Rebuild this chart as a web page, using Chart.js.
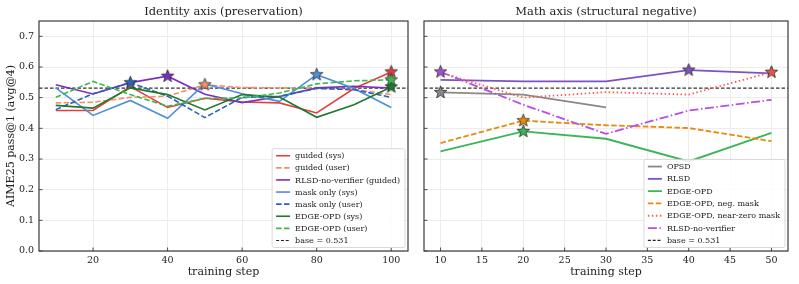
<!DOCTYPE html>
<html>
<head>
<meta charset="utf-8">
<script src="https://cdn.jsdelivr.net/npm/chart.js@4.4.1/dist/chart.umd.min.js"></script>
<style>
  html, body { margin: 0; padding: 0; background: #fff; }
  .wrap { position: relative; width: 799px; height: 284px; }
  .panel { position: absolute; top: 0; height: 284px; }
  #left { left: 0; width: 416px; }
  #right { left: 416px; width: 383px; }
</style>
</head>
<body>
<div class="wrap">
  <div class="panel" id="left"><canvas id="idChart"></canvas></div>
  <div class="panel" id="right"><canvas id="mathChart"></canvas></div>
</div>
<script>
const base = 0.531;
const yTicks = [0, 0.1, 0.2, 0.3, 0.4, 0.5, 0.6, 0.7];

// identity axis (preservation)
const idSteps = [10, 20, 30, 40, 50, 60, 70, 80, 90, 100];
const idTicks = [20, 40, 60, 80, 100];
const guidedSys    = [0.458, 0.458, 0.536, 0.468, 0.498, 0.486, 0.483, 0.450, 0.530, 0.584];
const guidedUser   = [0.483, 0.485, 0.501, 0.505, 0.542, 0.533, 0.532, 0.531, 0.527, 0.510];
const rlsdNvGuided = [0.542, 0.512, 0.549, 0.570, 0.511, 0.484, 0.504, 0.532, 0.537, 0.531];
const maskSys      = [0.532, 0.442, 0.491, 0.433, 0.545, 0.513, 0.488, 0.575, 0.530, 0.468];
const maskUser     = [0.461, 0.513, 0.549, 0.505, 0.435, 0.501, 0.504, 0.530, 0.526, 0.501];
const edgeSys      = [0.475, 0.466, 0.532, 0.510, 0.460, 0.510, 0.502, 0.436, 0.477, 0.535];
const edgeUser     = [0.501, 0.553, 0.510, 0.472, 0.498, 0.499, 0.515, 0.545, 0.555, 0.558];

// math axis (structural negative)
const mathSteps = [10, 20, 30, 40, 50];
const mathTicks = [10, 15, 20, 25, 30, 35, 40, 45, 50];
const opsd       = [0.517, 0.510, 0.468];
const rlsd       = [0.558, 0.553, 0.553, 0.590, 0.579];
const edgeOpd    = [0.325, 0.390, 0.366, 0.292, 0.385];
const negMask    = [0.352, 0.425, 0.410, 0.401, 0.358];
const nearZero   = [0.582, 0.500, 0.518, 0.510, 0.583];
const rlsdNoVer  = [0.584, 0.477, 0.382, 0.458, 0.493];

const FONT = "'DejaVu Serif', 'Liberation Serif', serif";
const DASH = [5.5, 2.4], DOT = [1.5, 2.5], DASHDOT = [9, 2.5, 1.5, 2.5];

function starImage(color) {
  const c = document.createElement('canvas');
  c.width = c.height = 15;
  const g = c.getContext('2d');
  g.beginPath();
  for (let i = 0; i < 10; i++) {
    const r = i % 2 ? 2.8 : 6.6;
    const a = -Math.PI / 2 + i * Math.PI / 5;
    g.lineTo(7.5 + r * Math.cos(a), 7.5 + r * Math.sin(a));
  }
  g.closePath();
  g.fillStyle = color;
  g.fill();
  g.lineWidth = 0.8;
  g.strokeStyle = '#2a2a2a';
  g.stroke();
  return c;
}

function bestIndex(vals) {
  let b = 0;
  vals.forEach((v, i) => { if (v >= vals[b]) b = i; });
  return b;
}

// one line + its star at the best step
function makeSeries(steps, list) {
  const lines = [], stars = [];
  list.forEach((s, i) => {
    const pts = s.data.map((v, j) => ({ x: steps[j], y: v }));
    lines.push({
      label: s.label, data: pts, borderColor: s.color, borderWidth: s.width || 1.6,
      borderDash: s.dash || [], pointRadius: 0, tension: 0, fill: false, order: -i
    });
    const b = bestIndex(s.data);
    stars.push({
      label: '', data: [pts[b]], showLine: false, pointRadius: 7,
      pointStyle: starImage(s.star || s.color), order: -100 - i
    });
  });
  return lines.concat(stars);
}

const panelPlugin = {
  id: 'panel',
  beforeDatasetsDraw(chart, args, opts) {
    const { ctx, chartArea: a, scales } = chart;
    const y = scales.y.getPixelForValue(base);
    ctx.save();
    ctx.strokeStyle = '#333';
    ctx.lineWidth = 1.1;
    ctx.setLineDash([3.5, 2]);
    ctx.beginPath();
    ctx.moveTo(a.left, y);
    ctx.lineTo(a.right, y);
    ctx.stroke();
    ctx.restore();
  },
  afterDraw(chart, args, opts) {
    const { ctx, chartArea: a, scales } = chart;
    ctx.save();
    ctx.strokeStyle = '#3a3a3a';
    ctx.lineWidth = 1.2;
    ctx.strokeRect(a.left, a.top, a.right - a.left, a.bottom - a.top);
    ctx.lineWidth = 0.9;
    ctx.beginPath();
    scales.x.ticks.forEach(t => {
      const x = scales.x.getPixelForValue(t.value);
      ctx.moveTo(x, a.bottom); ctx.lineTo(x, a.bottom - 3.5);
    });
    scales.y.ticks.forEach(t => {
      const y = scales.y.getPixelForValue(t.value);
      ctx.moveTo(a.left, y); ctx.lineTo(a.left + 3.5, y);
    });
    ctx.stroke();

    ctx.fillStyle = '#222';
    ctx.font = '11.5px ' + FONT;
    ctx.textAlign = 'center';
    ctx.textBaseline = 'middle';
    ctx.fillText(opts.title, (a.left + a.right) / 2, 12);

    // legend box, bottom right
    const items = opts.legend;
    ctx.font = '8px ' + FONT;
    const tw = Math.max(...items.map(it => ctx.measureText(it.label).width));
    const rowH = opts.rowH;
    const w = 4 + 14 + 5 + tw + 5;
    const h = items.length * rowH + 2;
    const bx = a.right - 3 - w, by = a.bottom - 3.5 - h;
    ctx.fillStyle = 'rgba(255,255,255,0.85)';
    ctx.strokeStyle = '#cfcfcf';
    ctx.lineWidth = 0.8;
    ctx.beginPath();
    ctx.roundRect(bx, by, w, h, 2);
    ctx.fill();
    ctx.stroke();
    ctx.textAlign = 'left';
    items.forEach((it, i) => {
      const cy = by + 1 + (i + 0.5) * rowH;
      ctx.strokeStyle = it.color;
      ctx.lineWidth = it.width || 1.6;
      ctx.setLineDash(it.dash || []);
      ctx.beginPath();
      ctx.moveTo(bx + 4, cy);
      ctx.lineTo(bx + 18, cy);
      ctx.stroke();
      ctx.setLineDash([]);
      ctx.fillStyle = '#222';
      ctx.fillText(it.label, bx + 23, cy + 0.5);
    });
    ctx.restore();
  }
};

function makeChart(id, steps, ticks, xmin, xmax, series, conf) {
  const baseItem = { label: 'base = 0.531', color: '#222', dash: [3, 1.8], width: 1.1 };
  return new Chart(document.getElementById(id), {
    type: 'line',
    data: { datasets: makeSeries(steps, series) },
    plugins: [panelPlugin],
    options: {
      responsive: true,
      maintainAspectRatio: false,
      animation: false,
      events: [],
      layout: { padding: { left: 0, right: conf.padRight, top: 21, bottom: 3 } },
      plugins: {
        legend: { display: false },
        tooltip: { enabled: false },
        panel: { title: conf.title, legend: series.concat([baseItem]), rowH: conf.rowH }
      },
      scales: {
        x: {
          type: 'linear', min: xmin, max: xmax,
          afterBuildTicks: s => { s.ticks = ticks.map(v => ({ value: v })); },
          afterFit: s => { s.height = 30; },
          grid: { color: '#ececec', drawTicks: false },
          border: { display: false },
          ticks: { font: { family: FONT, size: 9.5 }, color: '#222', padding: 4 },
          title: { display: true, text: 'training step', font: { family: FONT, size: 11 }, color: '#222', padding: { top: 0, bottom: 2 } }
        },
        y: {
          min: 0, max: 0.75,
          afterBuildTicks: s => { s.ticks = yTicks.map(v => ({ value: v })); },
          afterFit: s => { s.width = conf.yWidth; },
          grid: { color: '#ececec', drawTicks: false },
          border: { display: false },
          ticks: { display: conf.yLabels, font: { family: FONT, size: 9.5 }, color: '#222', padding: 5, callback: v => v.toFixed(1) },
          title: { display: conf.yLabels, text: 'AIME25 pass@1 (avg@4)', font: { family: FONT, size: 11 }, color: '#222', padding: { top: 5, bottom: 0 } }
        }
      }
    }
  });
}

makeChart('idChart', idSteps, idTicks, 5.5, 104.5, [
  { label: 'guided (sys)', data: guidedSys, color: '#e2403f' },
  { label: 'guided (user)', data: guidedUser, color: '#f0916b', dash: DASH },
  { label: 'RLSD-no-verifier (guided)', data: rlsdNvGuided, color: '#7b2fbe' },
  { label: 'mask only (sys)', data: maskSys, color: '#4c8fdb' },
  { label: 'mask only (user)', data: maskUser, color: '#2a63b8', dash: DASH },
  { label: 'EDGE-OPD (sys)', data: edgeSys, color: '#1b7a2c' },
  { label: 'EDGE-OPD (user)', data: edgeUser, color: '#3cb94b', dash: DASH }
], { title: 'Identity axis (preservation)', padRight: 7, yWidth: 39, yLabels: true, rowH: 12.1 });

makeChart('mathChart', mathSteps, mathTicks, 8, 52, [
  { label: 'OPSD', data: opsd, color: '#888888', width: 1.8 },
  { label: 'RLSD', data: rlsd, color: '#7e52c0', width: 1.8 },
  { label: 'EDGE-OPD', data: edgeOpd, color: '#3ab55a', width: 1.8 },
  { label: 'EDGE-OPD, neg. mask', data: negMask, color: '#e98a0c', dash: DASH, width: 1.8 },
  { label: 'EDGE-OPD, near-zero mask', data: nearZero, color: '#ff5a55', dash: DOT, width: 1.8, star: '#e0574c' },
  { label: 'RLSD-no-verifier', data: rlsdNoVer, color: '#b550e2', dash: DASHDOT, width: 1.8, star: '#a44fd0' }
], { title: 'Math axis (structural negative)', padRight: 11, yWidth: 6, yLabels: false, rowH: 12.3 });
</script>
</body>
</html>
